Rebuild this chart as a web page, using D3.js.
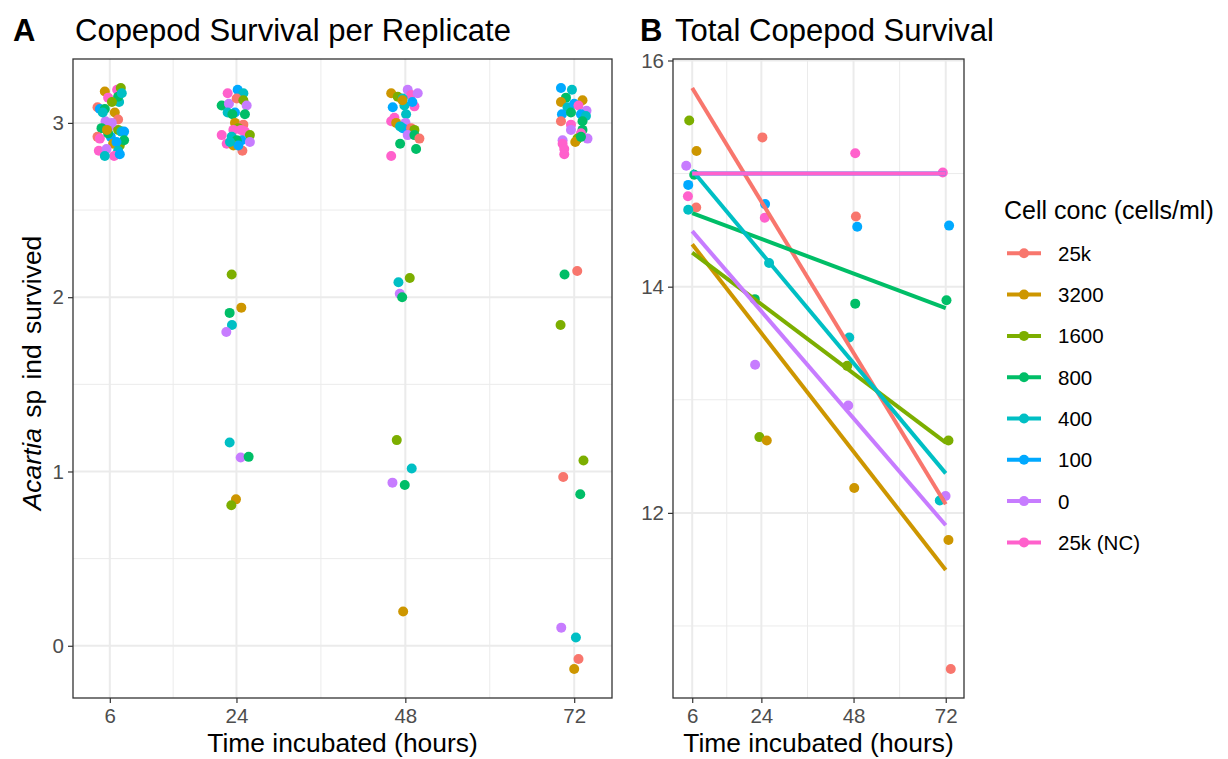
<!DOCTYPE html>
<html>
<head>
<meta charset="utf-8">
<script src="https://cdn.jsdelivr.net/npm/d3@7"></script>
<style>
  body { margin: 0; background: #fff; }
  text { font-family: "Liberation Sans", Arial, Helvetica, sans-serif; }
</style>
</head>
<body>
<svg id="chart" width="1228" height="759"></svg>
<script>
// Treatments (legend order) and their hue palette
const groups = ["25k", "3200", "1600", "800", "400", "100", "0", "25k (NC)"];
const groupColors = ["#F8766D", "#CD9600", "#7CAE00", "#00BE67", "#00BFC4", "#00A9FF", "#C77CFF", "#FF61CC"];

// Sampling times (hours) used as axis breaks
const timeBreaks = [6, 24, 48, 72];
const timeMinor = [15, 36, 60];

// Panel A: survivors per replicate, jittered [hours, survived, treatment]
const replicates6h = [
  [5.29, 3.18, "3200"], [7.04, 3.19, "25k (NC)"], [7.56, 3.20, "1600"], [5.76, 3.145, "25k (NC)"],
  [7.32, 3.12, "400"], [7.18, 3.15, "800"], [4.25, 3.09, "25k"], [4.58, 3.08, "100"],
  [5.29, 3.08, "800"], [6.71, 3.06, "3200"], [7.18, 3.02, "25k"], [5.39, 3.01, "0"],
  [6.00, 2.98, "0"], [4.82, 2.97, "800"], [7.18, 2.96, "1600"], [7.66, 2.95, "400"],
  [8.03, 2.95, "100"], [4.25, 2.92, "25k"], [4.58, 2.91, "25k (NC)"], [6.14, 2.92, "100"],
  [5.76, 2.94, "800"], [6.47, 2.88, "3200"], [7.42, 2.87, "1600"], [8.03, 2.90, "800"],
  [6.95, 2.89, "100"], [4.44, 2.84, "25k (NC)"], [5.53, 2.85, "0"], [7.18, 2.84, "400"],
  [6.61, 2.81, "25k (NC)"], [5.29, 2.81, "400"], [7.42, 2.82, "100"], [6.28, 3.00, "0"],
  [5.00, 3.06, "400"], [6.30, 3.12, "1600"], [5.60, 2.96, "3200"], [7.70, 3.17, "400"]
];
const replicates24h = [
  [22.75, 3.17, "25k (NC)"], [24.17, 3.19, "100"], [24.98, 3.17, "400"], [21.90, 3.10, "800"],
  [22.93, 3.11, "0"], [24.03, 3.14, "25k"], [24.98, 3.13, "1600"], [25.45, 3.10, "0"],
  [23.79, 3.06, "100"], [22.75, 3.06, "400"], [25.20, 3.05, "800"], [23.42, 3.05, "800"],
  [23.79, 3.00, "3200"], [24.98, 2.99, "25k"], [24.27, 2.97, "1600"], [23.56, 2.96, "25k (NC)"],
  [24.64, 2.96, "25k (NC)"], [25.20, 2.95, "25k (NC)"], [21.90, 2.93, "25k (NC)"], [25.91, 2.93, "1600"],
  [23.32, 2.92, "400"], [24.74, 2.90, "100"], [25.91, 2.89, "0"], [22.61, 2.88, "25k (NC)"],
  [24.03, 2.90, "800"], [23.56, 2.87, "3200"], [24.84, 2.84, "25k"], [24.27, 2.87, "100"],
  [23.08, 2.89, "400"],
  [23.32, 2.13, "1600"], [24.69, 1.94, "3200"], [23.03, 1.91, "800"], [23.36, 1.84, "400"],
  [22.56, 1.80, "0"], [23.03, 1.166, "400"], [24.60, 1.08, "0"], [25.73, 1.084, "800"],
  [23.93, 0.84, "3200"], [23.27, 0.806, "1600"]
];
const replicates48h = [
  [45.99, 3.17, "3200"], [48.34, 3.19, "0"], [48.82, 3.16, "25k (NC)"], [49.76, 3.17, "0"],
  [46.92, 3.15, "1600"], [47.63, 3.14, "400"], [46.21, 3.09, "100"], [49.29, 3.095, "25k (NC)"],
  [47.87, 3.10, "400"], [48.11, 3.05, "400"], [46.45, 3.03, "25k (NC)"], [45.99, 3.01, "25k (NC)"],
  [46.70, 3.00, "3200"], [48.02, 3.00, "0"], [47.63, 2.97, "100"], [48.82, 2.97, "25k"],
  [49.29, 2.96, "1600"], [48.34, 2.93, "0"], [49.29, 2.93, "800"], [50.00, 2.91, "25k"],
  [47.26, 2.88, "800"], [49.53, 2.85, "800"], [45.99, 2.81, "25k (NC)"], [47.26, 2.98, "400"],
  [47.59, 3.13, "3200"], [49.00, 3.12, "100"],
  [48.63, 2.11, "1600"], [47.02, 2.086, "400"], [47.21, 2.02, "0"], [47.55, 2.00, "800"],
  [46.78, 1.18, "1600"], [48.91, 1.017, "400"], [46.17, 0.936, "0"], [47.92, 0.922, "800"],
  [47.69, 0.197, "3200"]
];
const replicates72h = [
  [70.12, 3.20, "100"], [71.68, 3.19, "400"], [70.83, 3.145, "800"], [70.12, 3.12, "3200"],
  [73.18, 3.13, "3200"], [71.05, 3.09, "400"], [72.00, 3.11, "100"], [72.61, 3.10, "25k (NC)"],
  [73.75, 3.07, "0"], [70.26, 3.05, "100"], [71.54, 3.06, "800"], [72.96, 3.05, "100"],
  [73.67, 3.04, "400"], [70.12, 3.01, "25k"], [71.54, 2.99, "25k (NC)"], [73.18, 3.01, "800"],
  [71.54, 2.96, "0"], [73.18, 2.96, "800"], [72.96, 2.94, "25k (NC)"], [73.89, 2.91, "0"],
  [72.47, 2.91, "1600"], [72.15, 2.89, "3200"], [70.35, 2.90, "0"], [70.35, 2.88, "25k (NC)"],
  [70.59, 2.85, "25k (NC)"], [70.59, 2.82, "25k (NC)"], [72.96, 2.92, "800"],
  [72.43, 2.15, "25k"], [70.63, 2.13, "800"], [70.06, 1.84, "1600"], [73.32, 1.063, "1600"],
  [70.44, 0.968, "25k"], [72.86, 0.869, "800"], [70.16, 0.104, "0"], [72.24, 0.047, "400"],
  [72.61, -0.076, "25k"], [72.00, -0.133, "3200"]
];

// Panel B: total survivors per treatment at each time (rows follow `groups`)
const totalSurvival = [
  [15, 15, 15, 11],
  [15, 13, 12, 12],
  [15, 13, 13, 13],
  [15, 14, 14, 14],
  [15, 14, 14, 12],
  [15, 15, 15, 15],
  [15, 13, 13, 12],
  [15, 15, 15, 15]
];
// Panel B: jittered totals as plotted [hours, total, treatment]
const totalPoints = [
  [5.22, 15.47, "1600"], [7.12, 15.20, "3200"], [4.44, 15.07, "0"], [6.52, 14.99, "800"],
  [4.96, 14.90, "100"], [4.88, 14.80, "25k (NC)"], [7.04, 14.70, "25k"], [4.96, 14.68, "400"],
  [24.27, 15.32, "25k"], [24.97, 14.73, "100"], [24.89, 14.61, "25k (NC)"], [26.01, 14.21, "400"],
  [22.29, 13.89, "800"], [22.37, 13.31, "0"], [23.49, 12.67, "1600"], [25.41, 12.64, "3200"],
  [48.44, 15.18, "25k (NC)"], [48.62, 14.62, "25k"], [48.96, 14.53, "100"], [48.44, 13.85, "800"],
  [46.88, 13.55, "400"], [46.36, 13.30, "1600"], [46.62, 12.95, "0"], [48.18, 12.22, "3200"],
  [71.23, 15.01, "25k (NC)"], [72.87, 14.54, "100"], [72.19, 13.88, "800"], [72.71, 12.64, "1600"],
  [71.95, 12.15, "0"], [70.45, 12.11, "400"], [72.71, 11.76, "3200"], [73.31, 10.62, "25k"]
];

const yBreaksA = [0, 1, 2, 3];
const yMinorA = [0.5, 1.5, 2.5];
const yBreaksB = [12, 14, 16];
const yMinorB = [11, 13, 15];

// ---------------------------------------------------------------------------
const svg = d3.select("#chart");
const color = d3.scaleOrdinal().domain(groups).range(groupColors);

const INK = "#333333", TICK_TEXT = "#4D4D4D", GRID = "#EBEBEB";
const R = 5, LINE_W = 4;

function expand(ext, mult = 0.05) {
  const d = (ext[1] - ext[0]) * mult;
  return [ext[0] - d, ext[1] + d];
}

// least-squares fit of totals against time
function linearFit(xs, ys) {
  const mx = d3.mean(xs), my = d3.mean(ys);
  let sxy = 0, sxx = 0;
  xs.forEach((x, i) => { sxy += (x - mx) * (ys[i] - my); sxx += (x - mx) ** 2; });
  const slope = sxy / sxx;
  return x => my + slope * (x - mx);
}

function drawPanel(cfg) {
  const { left, right, top, bottom, x, y, yBreaks, yMinor } = cfg;
  const g = svg.append("g");
  g.append("rect").attr("x", left).attr("y", top)
    .attr("width", right - left).attr("height", bottom - top).attr("fill", "#fff");

  const grid = g.append("g");
  yMinor.forEach(v => grid.append("line")
    .attr("x1", left).attr("x2", right).attr("y1", y(v)).attr("y2", y(v))
    .attr("stroke", GRID).attr("stroke-width", 1));
  timeMinor.forEach(v => grid.append("line")
    .attr("y1", top).attr("y2", bottom).attr("x1", x(v)).attr("x2", x(v))
    .attr("stroke", GRID).attr("stroke-width", 1));
  yBreaks.forEach(v => grid.append("line")
    .attr("x1", left).attr("x2", right).attr("y1", y(v)).attr("y2", y(v))
    .attr("stroke", GRID).attr("stroke-width", 2));
  timeBreaks.forEach(v => grid.append("line")
    .attr("y1", top).attr("y2", bottom).attr("x1", x(v)).attr("x2", x(v))
    .attr("stroke", GRID).attr("stroke-width", 2));

  // axes
  const xAxis = d3.axisBottom(x).tickValues(timeBreaks).tickFormat(d3.format("d"))
    .tickSize(5).tickPadding(5);
  const gx = svg.append("g").attr("transform", `translate(0,${bottom})`).call(xAxis);
  const yAxis = d3.axisLeft(y).tickValues(yBreaks).tickFormat(d3.format("d"))
    .tickSize(5).tickPadding(4);
  const gy = svg.append("g").attr("transform", `translate(${left},0)`).call(yAxis);
  [gx, gy].forEach(a => {
    a.select(".domain").remove();
    a.selectAll(".tick line").attr("stroke", INK).attr("stroke-width", 1.2);
    a.selectAll(".tick text").attr("fill", TICK_TEXT).style("font-size", "20.5px")
      .style("font-family", "'Liberation Sans', Arial, sans-serif");
  });

  svg.append("text").attr("x", (left + right) / 2).attr("y", 752)
    .attr("text-anchor", "middle").style("font-size", "26.4px").attr("fill", "#000")
    .text("Time incubated (hours)");
  return g;
}

function drawBorder(cfg) {
  svg.append("rect").attr("x", cfg.left).attr("y", cfg.top)
    .attr("width", cfg.right - cfg.left).attr("height", cfg.bottom - cfg.top)
    .attr("fill", "none").attr("stroke", INK).attr("stroke-width", 1.3);
}

// ---------------- Panel A ----------------
const replicates = [...replicates6h, ...replicates24h, ...replicates48h, ...replicates72h];
const panelA = { left: 73, right: 612, top: 59, bottom: 698, yBreaks: yBreaksA, yMinor: yMinorA };
panelA.x = d3.scaleLinear().domain(expand(d3.extent(replicates, d => d[0]))).range([panelA.left, panelA.right]);
panelA.y = d3.scaleLinear().domain(expand(d3.extent(replicates, d => d[1]))).range([panelA.bottom, panelA.top]);
const gA = drawPanel(panelA);
gA.append("g").selectAll("circle").data(replicates).join("circle")
  .attr("cx", d => panelA.x(d[0])).attr("cy", d => panelA.y(d[1]))
  .attr("r", R).attr("fill", d => color(d[2]));
drawBorder(panelA);

svg.append("text").attr("x", 13).attr("y", 41).style("font-size", "31px")
  .style("font-weight", "bold").text("A");
svg.append("text").attr("x", 75).attr("y", 41).style("font-size", "31px")
  .text("Copepod Survival per Replicate");

// y-axis title: genus in italics
const yTitle = svg.append("text")
  .attr("transform", `translate(41,373) rotate(-90)`)
  .attr("text-anchor", "middle").style("font-size", "26.4px").style("word-spacing", "3px");
yTitle.append("tspan").style("font-style", "italic").text("Acartia");
yTitle.append("tspan").text(" sp ind survived");

// ---------------- Panel B ----------------
const fits = groups.map((gname, i) => ({ group: gname, f: linearFit(timeBreaks, totalSurvival[i]) }));
const fitEnds = fits.flatMap(d => [d.f(timeBreaks[0]), d.f(timeBreaks[timeBreaks.length - 1])]);
const panelB = { left: 673, right: 964, top: 59, bottom: 698, yBreaks: yBreaksB, yMinor: yMinorB };
panelB.x = d3.scaleLinear()
  .domain(expand(d3.extent([...totalPoints.map(d => d[0]), ...timeBreaks])))
  .range([panelB.left, panelB.right]);
panelB.y = d3.scaleLinear()
  .domain(expand(d3.extent([...totalPoints.map(d => d[1]), ...fitEnds])))
  .range([panelB.bottom, panelB.top]);
const gB = drawPanel(panelB);
gB.append("g").selectAll("circle").data(totalPoints).join("circle")
  .attr("cx", d => panelB.x(d[0])).attr("cy", d => panelB.y(d[1]))
  .attr("r", R).attr("fill", d => color(d[2]));
const tMin = timeBreaks[0], tMax = timeBreaks[timeBreaks.length - 1];
gB.append("g").selectAll("line").data(fits).join("line")
  .attr("x1", panelB.x(tMin)).attr("x2", panelB.x(tMax))
  .attr("y1", d => panelB.y(d.f(tMin))).attr("y2", d => panelB.y(d.f(tMax)))
  .attr("stroke", d => color(d.group)).attr("stroke-width", LINE_W);
drawBorder(panelB);

svg.append("text").attr("x", 640).attr("y", 41).style("font-size", "31px")
  .style("font-weight", "bold").text("B");
svg.append("text").attr("x", 675).attr("y", 41).style("font-size", "31px")
  .text("Total Copepod Survival");

// ---------------- Legend ----------------
const legend = svg.append("g");
legend.append("text").attr("x", 1004).attr("y", 219).style("font-size", "25px")
  .text("Cell conc (cells/ml)");
const rows = legend.selectAll("g.row").data(groups).join("g").attr("class", "row")
  .attr("transform", (d, i) => `translate(0,${253.3 + i * 41.3})`);
rows.append("line").attr("x1", 1007).attr("x2", 1041).attr("y1", 0).attr("y2", 0)
  .attr("stroke", d => color(d)).attr("stroke-width", LINE_W);
rows.append("circle").attr("cx", 1024).attr("cy", 0).attr("r", R).attr("fill", d => color(d));
rows.append("text").attr("x", 1058).attr("y", 7.5).style("font-size", "20.5px")
  .attr("fill", "#000").text(d => d);
</script>
</body>
</html>
